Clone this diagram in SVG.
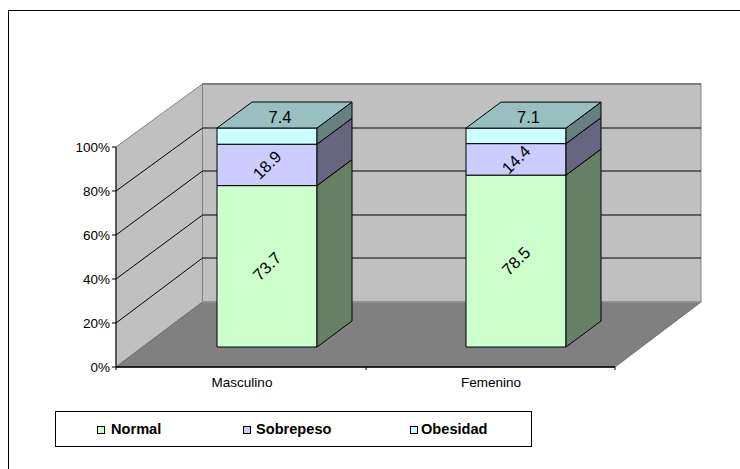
<svg xmlns="http://www.w3.org/2000/svg" width="740" height="469" viewBox="0 0 740 469">
<style>
text{font-family:"Liberation Sans",Arial,sans-serif;font-size:13.5px;fill:#000}
.wall{fill:#C0C0C0;stroke:#808080;stroke-width:1}
.grid{stroke:#000;stroke-width:1;fill:none}
.ax{stroke:#000;stroke-width:1;fill:none}
.bar{stroke:#000;stroke-width:1;stroke-linejoin:round}
.nF{fill:#CCFFCC}.nS{fill:#668066}
.sF{fill:#CCCCFF}.sS{fill:#666680}
.oF{fill:#CCFFFF}.oS{fill:#668080}.oT{fill:#99C0C0}
.lg{font-weight:bold;font-size:14.6px}
.dl{font-size:16.5px;text-anchor:middle}
.ylab{text-anchor:end}
.mid{text-anchor:middle}
</style>
<rect x="0" y="0" width="740" height="469" fill="#fff"/>
<rect x="8.5" y="10.5" width="740" height="470" fill="none" stroke="#000" stroke-width="1"/>

<g id="plot-area">
  <polygon class="wall" points="116,147 202.5,84 202.5,302 116,367"/>
  <rect class="wall" x="202.5" y="84" width="498.5" height="218"/>
  <line x1="202.5" y1="84" x2="701" y2="84" stroke="#808080" stroke-width="2"/>
  <polygon points="116,367 202.5,302 701,302 615,367" fill="#808080" stroke="#707070" stroke-width="1"/>
  <line x1="202.5" y1="302" x2="701" y2="302" stroke="#A0A0A0" stroke-width="1"/>
</g>

<g id="gridlines">
  <line class="grid" x1="116" y1="191" x2="202.5" y2="128"/>
  <line class="grid" x1="116" y1="235" x2="202.5" y2="171"/>
  <line class="grid" x1="116" y1="279" x2="202.5" y2="215"/>
  <line class="grid" x1="116" y1="323" x2="202.5" y2="258"/>
  <line class="grid" x1="202.5" y1="128" x2="701" y2="128"/>
  <line class="grid" x1="202.5" y1="171" x2="701" y2="171"/>
  <line class="grid" x1="202.5" y1="215" x2="701" y2="215"/>
  <line class="grid" x1="202.5" y1="258" x2="701" y2="258"/>
</g>

<g id="axes">
  <line class="ax" x1="116" y1="147" x2="116" y2="367"/>
  <line class="ax" x1="112" y1="147" x2="116" y2="147"/>
  <line class="ax" x1="112" y1="191" x2="116" y2="191"/>
  <line class="ax" x1="112" y1="235" x2="116" y2="235"/>
  <line class="ax" x1="112" y1="279" x2="116" y2="279"/>
  <line class="ax" x1="112" y1="323" x2="116" y2="323"/>
  <line class="ax" x1="112" y1="367" x2="116" y2="367"/>
  <line x1="116" y1="367" x2="615" y2="367" stroke="#000" stroke-width="1.5"/>
  <line class="ax" x1="116" y1="367" x2="116" y2="370"/>
  <line class="ax" x1="366" y1="367" x2="366" y2="370"/>
  <line class="ax" x1="615" y1="367" x2="615" y2="370"/>
  <text class="ylab" x="110" y="152">100%</text>
  <text class="ylab" x="110" y="196">80%</text>
  <text class="ylab" x="110" y="240">60%</text>
  <text class="ylab" x="110" y="284">40%</text>
  <text class="ylab" x="110" y="328">20%</text>
  <text class="ylab" x="110" y="372">0%</text>
  <text class="mid" x="242" y="387">Masculino</text>
  <text class="mid" x="491" y="387">Femenino</text>
</g>

<g id="bar-masculino">
  <rect class="bar nF" x="217" y="185.6" width="100" height="161.4"/>
  <polygon class="bar nS" points="317,185.6 352,159.6 352,321 317,347"/>
  <rect class="bar sF" x="217" y="144.2" width="100" height="41.4"/>
  <polygon class="bar sS" points="317,144.2 352,118.2 352,159.6 317,185.6"/>
  <rect class="bar oF" x="217" y="128" width="100" height="16.2"/>
  <polygon class="bar oS" points="317,128 352,102 352,118.2 317,144.2"/>
  <polygon class="bar oT" points="217,128 252,102 352,102 317,128"/>
  <text class="dl" x="280" y="123.3">7.4</text>
  <text class="dl" x="267" y="170.8" transform="rotate(-45 267 164.9)">18.9</text>
  <text class="dl" x="267" y="272.2" transform="rotate(-45 267 266.3)">73.7</text>
</g>

<g id="bar-femenino">
  <rect class="bar nF" x="466" y="175.1" width="100" height="171.9"/>
  <polygon class="bar nS" points="566,175.1 601,149.1 601,321 566,347"/>
  <rect class="bar sF" x="466" y="143.6" width="100" height="31.5"/>
  <polygon class="bar sS" points="566,143.6 601,117.6 601,149.1 566,175.1"/>
  <rect class="bar oF" x="466" y="128.1" width="100" height="15.5"/>
  <polygon class="bar oS" points="566,128.1 601,102.1 601,117.6 566,143.6"/>
  <polygon class="bar oT" points="466,128.1 501,102.1 601,102.1 566,128.1"/>
  <text class="dl" x="528.5" y="123.3">7.1</text>
  <text class="dl" x="516" y="165.3" transform="rotate(-45 516 159.4)">14.4</text>
  <text class="dl" x="516" y="266.9" transform="rotate(-45 516 261)">78.5</text>
</g>

<g id="legend">
  <rect x="55.5" y="411.5" width="476" height="35" fill="#fff" stroke="#000" stroke-width="1"/>
  <rect x="97.5" y="426.5" width="7" height="7" fill="#CCFFCC" stroke="#000" stroke-width="1"/>
  <text class="lg" x="111" y="434">Normal</text>
  <rect x="243.5" y="426.5" width="7" height="7" fill="#CCCCFF" stroke="#000" stroke-width="1"/>
  <text class="lg" x="256" y="434">Sobrepeso</text>
  <rect x="410.5" y="426.5" width="7" height="7" fill="#CCFFFF" stroke="#000" stroke-width="1"/>
  <text class="lg" x="421" y="434">Obesidad</text>
</g>
</svg>
